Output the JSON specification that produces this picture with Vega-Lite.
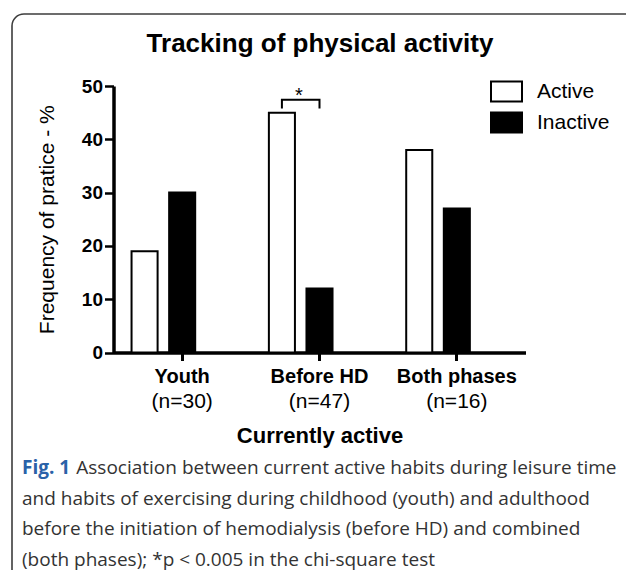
{
  "$schema": "https://vega.github.io/schema/vega-lite/v6.json",
  "width": 630,
  "height": 572,
  "autosize": {"type": "none"},
  "padding": {"left": 12, "top": 14, "right": -16, "bottom": -16},
  "background": "white",
  "config": {
    "view": {"stroke": "#3d3d3d", "strokeWidth": 1.6, "cornerRadius": 12, "fill": "white"},
    "font": "Liberation Sans",
    "axis": {"grid": false, "domainColor": "black", "tickColor": "black", "labelColor": "black", "titleColor": "black", "labelFont": "Liberation Sans", "titleFont": "Liberation Sans"}
  },
  "title": {
    "text": "Fig. 1",
    "subtitle": [
      "\u200d\u00a0\u00a0\u00a0\u00a0\u00a0\u00a0\u00a0\u00a0\u00a0\u00a0\u00a0Association between current active habits during leisure time",
      "and habits of exercising during childhood (youth) and adulthood",
      "before the initiation of hemodialysis (before HD) and combined",
      "(both phases); *p < 0.005 in the chi-square test"
    ],
    "orient": "bottom",
    "anchor": "start",
    "frame": "group",
    "offset": -127,
    "dx": 10,
    "font": "Open Sans",
    "fontSize": 19,
    "fontWeight": "bold",
    "color": "#2a62a8",
    "subtitleFont": "Open Sans",
    "subtitleFontSize": 19,
    "subtitleColor": "#333333",
    "subtitleLineHeight": 30.5,
    "subtitlePadding": -19
  },
  "datasets": {
    "bars": [
      {"category": "Youth", "group": "Active", "value": 19},
      {"category": "Youth", "group": "Inactive", "value": 30},
      {"category": "Before HD", "group": "Active", "value": 45},
      {"category": "Before HD", "group": "Inactive", "value": 12},
      {"category": "Both phases", "group": "Active", "value": 38},
      {"category": "Both phases", "group": "Inactive", "value": 27}
    ],
    "bracket": [
      {"category": "Before HD", "group": "Active", "value": 45.8, "step": 1},
      {"category": "Before HD", "group": "Active", "value": 47.4, "step": 2},
      {"category": "Before HD", "group": "Inactive", "value": 47.4, "step": 3},
      {"category": "Before HD", "group": "Inactive", "value": 45.8, "step": 4}
    ],
    "star": [
      {"category": "Before HD", "group": "Active", "value": 47, "label": "*"}
    ]
  },
  "layer": [
    {
      "data": {"name": "bars"},
      "mark": {"type": "bar", "stroke": "black", "strokeWidth": 2, "strokeJoin": "miter"},
      "encoding": {
        "x": {
          "field": "category", "type": "nominal",
          "sort": ["Youth", "Before HD", "Both phases"],
          "scale": {"domain": ["Youth", "Before HD", "Both phases"], "range": [101.5, 513.5], "paddingInner": 0.1788, "paddingOuter": 0.0894},
          "axis": {"orient": "bottom", "offset": -233.5, "title": null, "labelAngle": 0, "labelFontSize": 20, "labelFontWeight": "bold", "tickSize": 8, "tickWidth": 3, "domainWidth": 3.5, "labelPadding": 6}
        },
        "xOffset": {
          "field": "group", "type": "nominal",
          "scale": {"domain": ["Active", "Inactive", "_"], "paddingInner": 0.307, "paddingOuter": 0.1535}
        },
        "y": {
          "field": "value", "type": "quantitative",
          "scale": {"domain": [0, 50], "range": [338.5, 72], "nice": false},
          "axis": {"values": [0, 10, 20, 30, 40, 50], "title": "Frequency of pratice - %", "titleFontSize": 21, "titleFontWeight": "normal", "titlePadding": 24, "labelFontSize": 19, "labelFontWeight": "bold", "tickSize": 9, "tickWidth": 2.5, "domainWidth": 3.5, "labelPadding": 2, "offset": -101.5}
        },
        "fill": {
          "field": "group", "type": "nominal",
          "scale": {"domain": ["Active", "Inactive"], "range": ["white", "black"]},
          "legend": {"orient": "none", "legendX": 478, "legendY": 61, "title": null, "symbolType": "M-1,-0.64H1V0.64H-1Z", "symbolSize": 961, "symbolStrokeColor": "black", "symbolStrokeWidth": 2, "labelFontSize": 21, "labelFont": "Liberation Sans", "labelColor": "black", "labelOffset": 14, "rowPadding": -2, "padding": 0, "symbolOpacity": 1}
        }
      }
    },
    {
      "data": {"name": "bracket"},
      "mark": {"type": "line", "color": "black", "strokeWidth": 2, "strokeCap": "butt", "strokeJoin": "miter"},
      "encoding": {
        "x": {
          "field": "category", "type": "nominal",
          "axis": {"orient": "bottom", "offset": -233.5, "domain": false, "ticks": false, "tickSize": 0, "labelPadding": 38, "labelAngle": 0, "labelFontSize": 21, "labelFontWeight": "normal", "labelExpr": "datum.value == 'Youth' ? '(n=30)' : datum.value == 'Before HD' ? '(n=47)' : '(n=16)'", "title": "Currently active", "titleFontSize": 22, "titleFontWeight": "bold", "titlePadding": 14}
        },
        "xOffset": {"field": "group", "type": "nominal"},
        "y": {"field": "value", "type": "quantitative"},
        "order": {"field": "step", "type": "quantitative"}
      }
    },
    {
      "data": {"name": "star"},
      "mark": {"type": "text", "fontSize": 20, "dx": 17, "baseline": "alphabetic", "font": "Liberation Sans", "color": "black"},
      "encoding": {
        "x": {
          "field": "category", "type": "nominal",
          "axis": {"orient": "top", "offset": -42, "domain": false, "ticks": false, "labels": false, "tickSize": 0, "title": "Tracking of physical activity", "titleFontSize": 26, "titleFontWeight": "bold", "titlePadding": 0}
        },
        "xOffset": {"field": "group", "type": "nominal"},
        "y": {"field": "value", "type": "quantitative"},
        "text": {"field": "label"}
      }
    }
  ],
  "resolve": {"axis": {"x": "independent"}}
}
